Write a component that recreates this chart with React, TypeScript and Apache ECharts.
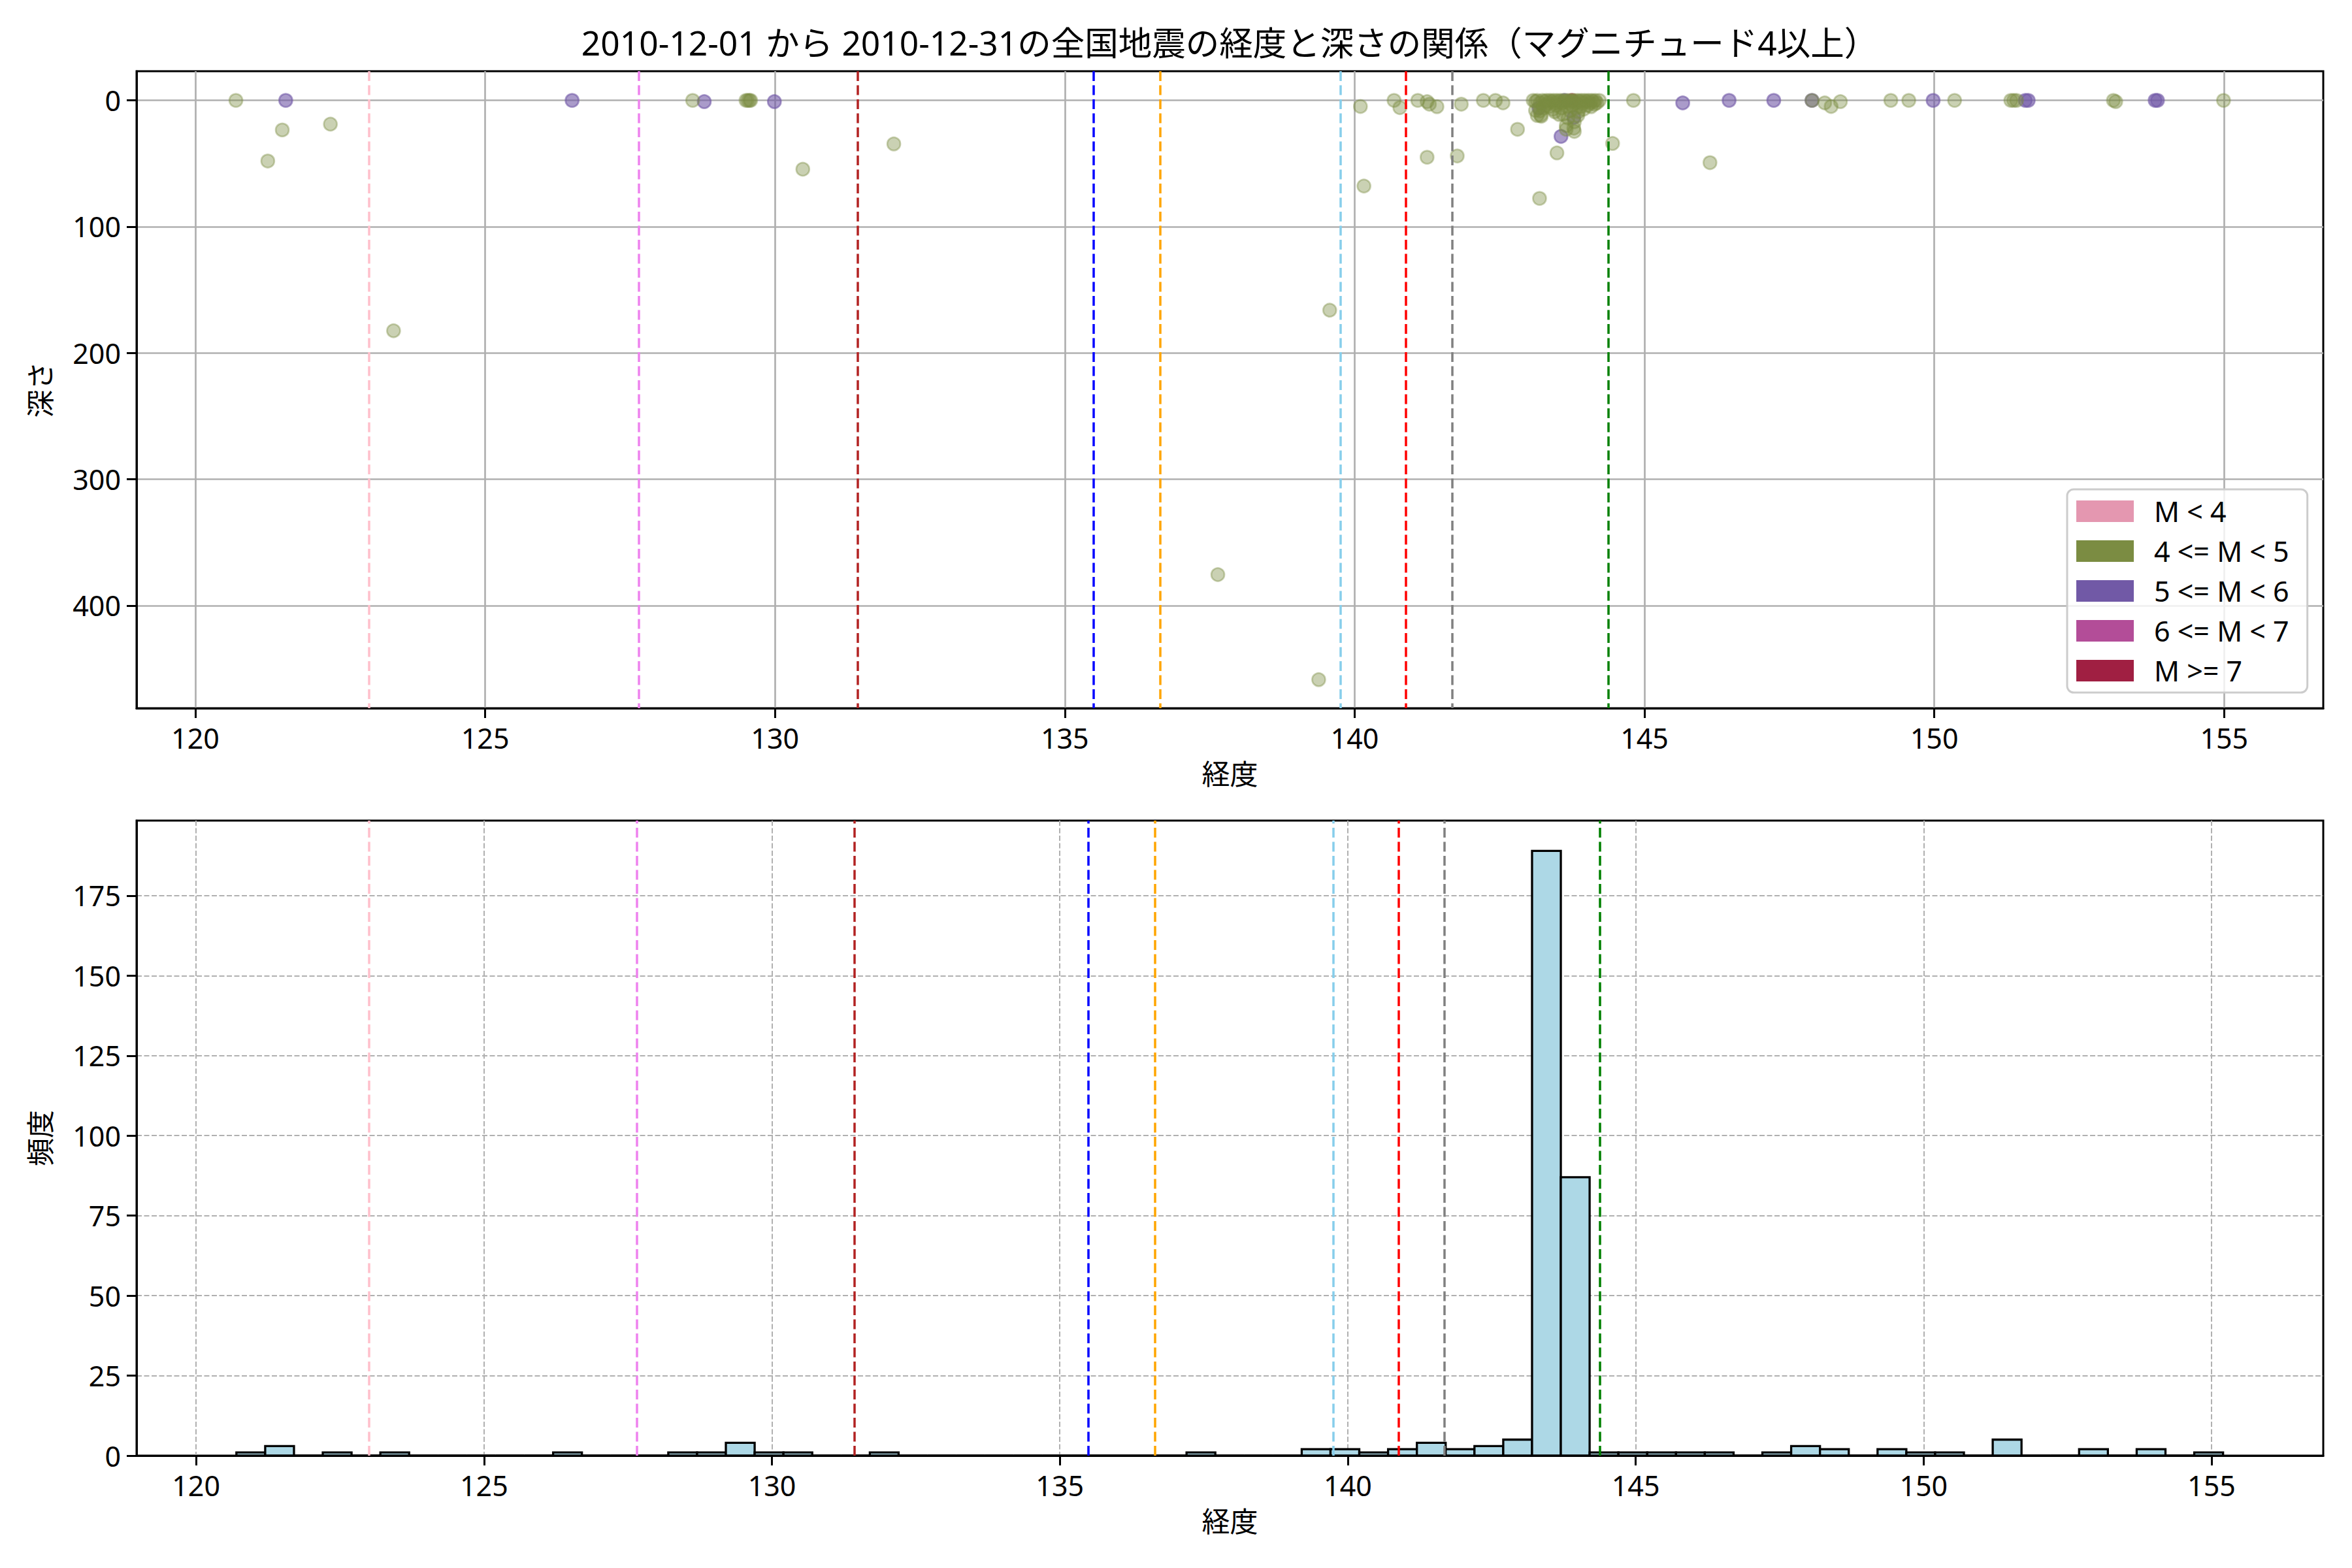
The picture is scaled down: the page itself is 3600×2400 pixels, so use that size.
import React, { useEffect, useRef } from "react";
import * as echarts from "echarts";

const TITLE = "2010-12-01 から 2010-12-31の全国地震の経度と深さの関係（マグニチュード4以上）";
const X_TICKS = [120, 125, 130, 135, 140, 145, 150, 155];
const DEPTH_TICKS = [0, 100, 200, 300, 400];
const FREQ_TICKS = [0, 25, 50, 75, 100, 125, 150, 175];

const LEGEND_NAMES = ["M < 4", "4 <= M < 5", "5 <= M < 6", "6 <= M < 7", "M >= 7"];
const LEGEND_COLORS = ["#E497B0", "#7B8C42", "#7159A6", "#B34D98", "#A01F42"];

// [longitude, depth]
const M_LT4: number[][] = [];
const M_4_5: number[][] = [
  [120.70, 0], [121.25, 48], [121.50, 23.4], [122.33, 18.8], [123.42, 182.4],
  [128.58, 0], [129.50, 0], [129.53, 0], [129.56, 0], [129.58, 0],
  [130.48, 54.5], [132.05, 34.5], [137.64, 375.5], [139.38, 458.7], [139.57, 166.1],
  [140.10, 4.8], [140.16, 67.8], [140.68, 0], [140.78, 5.7], [141.09, 0],
  [141.25, 1], [141.29, 3], [141.42, 5], [141.25, 45], [141.77, 44], [141.84, 3],
  [142.22, 0], [142.43, 0], [142.56, 2], [142.81, 22.9], [143.19, 77.6],
  [143.49, 41.6], [143.65, 22.9], [143.79, 24.6], [144.45, 34.1], [144.81, 0],
  [146.13, 49.3], [147.89, 0], [148.11, 2], [148.22, 4.8], [148.38, 1],
  [149.25, 0], [149.56, 0], [150.35, 0], [151.32, 0], [151.37, 0], [151.42, 0],
  [153.09, 0], [153.13, 1], [154.99, 0],
  [143.08, 0], [143.12, 1], [143.15, 0], [143.20, 2], [143.24, 0], [143.28, 1],
  [143.31, 0], [143.34, 2], [143.37, 0], [143.40, 1], [143.43, 0], [143.46, 2],
  [143.49, 0], [143.52, 1], [143.55, 0], [143.58, 2], [143.61, 0], [143.64, 1],
  [143.67, 0], [143.70, 2], [143.73, 0], [143.76, 1], [143.79, 0], [143.82, 2],
  [143.85, 0], [143.88, 1], [143.91, 0], [143.94, 2], [143.97, 0], [144.00, 1],
  [144.03, 0], [144.06, 2], [144.09, 0], [144.12, 1], [144.15, 0], [144.18, 2],
  [144.22, 0],
  [143.12, 8], [143.15, 12], [143.20, 8.3], [143.22, 12.6], [143.21, 11.7], [143.26, 6],
  [143.35, 5], [143.42, 7], [143.48, 4], [143.53, 11.2], [143.57, 6], [143.60, 11],
  [143.66, 5], [143.72, 8.3], [143.75, 4], [143.82, 6], [143.86, 9], [143.90, 5],
  [143.95, 7], [144.02, 4], [144.08, 5], [144.14, 3], [143.30, 4], [143.45, 9],
  [143.68, 14], [143.79, 17], [143.85, 12], [143.65, 20], [143.78, 22]
];
const M_5_6: number[][] = [
  [121.56, 0], [126.50, 0], [128.78, 1], [129.99, 1], [143.18, 6], [143.62, 0],
  [143.56, 28.5], [143.78, 13.5], [145.66, 2], [146.46, 0], [147.23, 0], [147.89, 0],
  [149.98, 0], [151.57, 0], [151.62, 0], [153.81, 0], [153.85, 0]
];
const M_6_7: number[][] = [];
const M_GE7: number[][] = [[143.75, 0]];

const BIN_START = 120.7;
const BIN_WIDTH = 0.5;
const HIST_COUNTS = [
  1, 3, 0, 1, 0, 1, 0, 0, 0, 0, 0, 1, 0, 0, 0, 1, 1, 4, 1, 1,
  0, 0, 1, 0, 0, 0, 0, 0, 0, 0, 0, 0, 0, 1, 0, 0, 0, 2, 2, 1,
  2, 4, 2, 3, 5, 189, 87, 1, 1, 1, 1, 1, 0, 1, 3, 2, 0, 2, 1, 1,
  0, 5, 0, 0, 2, 0, 2, 0, 1
];

const VLINE_LONS = [123.0, 127.65, 131.43, 135.49, 136.65, 139.75, 140.88, 141.68, 144.38];
const VLINE_COLORS = ["#FFC0CB", "#EE82EE", "#B22222", "#0000FF", "#FFA500", "#87CEEB", "#FF0000", "#808080", "#008000"];

const FONT = "'Noto Sans', 'Noto Sans CJK JP', sans-serif";
const FS = 43;

export default function App() {
  const ref = useRef<HTMLDivElement>(null);
  useEffect(() => {
    if (!ref.current) return;
    const chart = echarts.init(ref.current, undefined, { renderer: "svg" });

    const scatterStyle = (color: string, opacity: number) => ({
      color,
      opacity,
      borderColor: color,
      borderWidth: 2.7,
    });

    const vlineSeries = (xAxisIndex: number, yAxisIndex: number) => ({
      type: "line",
      xAxisIndex,
      yAxisIndex,
      data: [],
      silent: true,
      z: 10,
      markLine: {
        symbol: "none",
        silent: true,
        label: { show: false },
        animation: false,
        data: VLINE_LONS.map((v, i) => ({
          xAxis: v,
          lineStyle: { color: VLINE_COLORS[i], width: 3.5, type: [15, 6.5] },
        })),
      },
    });

    const axisCommonX = (min: number, max: number, grid: number, dashed: boolean) => ({
      type: "value",
      gridIndex: grid,
      min,
      max,
      name: "経度",
      nameLocation: "middle",
      nameGap: 79,
      nameTextStyle: { fontSize: FS, color: "#000", fontFamily: FONT },
      axisLine: { show: true, onZero: false, lineStyle: { color: "#000", width: 3 } },
      axisTick: { show: true, length: 15, customValues: X_TICKS, lineStyle: { color: "#000", width: 3 } },
      axisLabel: { customValues: X_TICKS, fontSize: FS, color: "#000", fontFamily: FONT, margin: 24 },
      splitLine: {
        show: true,
        lineStyle: dashed
          ? { color: "#b0b0b0", width: 2, type: [8, 3.5] }
          : { color: "#b0b0b0", width: 2.7 },
      },
    });

    const option = {
      animation: false,
      graphic: [
        {
          type: "text",
          x: 1882,
          y: 65,
          style: {
            text: TITLE,
            font: `51.5px ${FONT}`,
            textAlign: "center",
            textVerticalAlign: "middle",
            fill: "#000",
          },
        },
      ],
      grid: [
        { left: 209, right: 44, top: 109, height: 975, show: true, borderColor: "#000", borderWidth: 3, backgroundColor: "transparent" },
        { left: 209, right: 44, top: 1256, height: 972, show: true, borderColor: "#000", borderWidth: 3, backgroundColor: "transparent" },
      ],
      xAxis: [axisCommonX(118.986, 156.71, 0, false), axisCommonX(118.966, 156.94, 1, true)],
      yAxis: [
        {
          type: "value",
          gridIndex: 0,
          inverse: true,
          min: -23.1,
          max: 481.3,
          name: "深さ",
          nameLocation: "middle",
          nameGap: 126,
          nameRotate: 90,
          nameTextStyle: { fontSize: FS, color: "#000", fontFamily: FONT },
          axisLine: { show: true, lineStyle: { color: "#000", width: 3 } },
          axisTick: { show: true, length: 15, customValues: DEPTH_TICKS, lineStyle: { color: "#000", width: 3 } },
          axisLabel: { customValues: DEPTH_TICKS, fontSize: FS, color: "#000", fontFamily: FONT, margin: 24 },
          splitLine: { show: true, lineStyle: { color: "#b0b0b0", width: 2.7 } },
        },
        {
          type: "value",
          gridIndex: 1,
          min: 0,
          max: 198.45,
          name: "頻度",
          nameLocation: "middle",
          nameGap: 126,
          nameRotate: 90,
          nameTextStyle: { fontSize: FS, color: "#000", fontFamily: FONT },
          axisLine: { show: true, lineStyle: { color: "#000", width: 3 } },
          axisTick: { show: true, length: 15, customValues: FREQ_TICKS, lineStyle: { color: "#000", width: 3 } },
          axisLabel: { customValues: FREQ_TICKS, fontSize: FS, color: "#000", fontFamily: FONT, margin: 24 },
          splitLine: { show: true, lineStyle: { color: "#b0b0b0", width: 2, type: [8, 3.5] } },
        },
      ],
      legend: {
        orient: "vertical",
        left: 3164,
        top: 749,
        itemWidth: 88,
        itemHeight: 33,
        itemGap: 18,
        icon: "rect",
        padding: [12, 28, 12, 14],
        backgroundColor: "rgba(255,255,255,0.8)",
        borderColor: "#cccccc",
        borderWidth: 3,
        borderRadius: 10,
        textStyle: { fontSize: FS, color: "#000", fontFamily: FONT, padding: [0, 0, 0, 26] },
        data: LEGEND_NAMES.map((n, i) => ({ name: n, itemStyle: { color: LEGEND_COLORS[i], opacity: 1, borderWidth: 0 } })),
      },
      series: [
        { name: LEGEND_NAMES[4], type: "scatter", xAxisIndex: 0, yAxisIndex: 0, symbolSize: 20, data: M_GE7, itemStyle: scatterStyle(LEGEND_COLORS[4], 0.6) },
        { name: LEGEND_NAMES[3], type: "scatter", xAxisIndex: 0, yAxisIndex: 0, symbolSize: 20, data: M_6_7, itemStyle: scatterStyle(LEGEND_COLORS[3], 0.6) },
        { name: LEGEND_NAMES[2], type: "scatter", xAxisIndex: 0, yAxisIndex: 0, symbolSize: 20, data: M_5_6, itemStyle: scatterStyle(LEGEND_COLORS[2], 0.6) },
        { name: LEGEND_NAMES[1], type: "scatter", xAxisIndex: 0, yAxisIndex: 0, symbolSize: 20, data: M_4_5, itemStyle: scatterStyle(LEGEND_COLORS[1], 0.4) },
        { name: LEGEND_NAMES[0], type: "scatter", xAxisIndex: 0, yAxisIndex: 0, symbolSize: 20, data: M_LT4, itemStyle: scatterStyle(LEGEND_COLORS[0], 0.4) },
        vlineSeries(0, 0),
        {
          type: "custom",
          xAxisIndex: 1,
          yAxisIndex: 1,
          encode: { x: [0, 2], y: 1 },
          data: HIST_COUNTS.map((c, i) => [BIN_START + i * BIN_WIDTH, c, BIN_START + (i + 1) * BIN_WIDTH]),
          renderItem: (params: any, api: any) => {
            const x0 = api.value(0);
            const c = api.value(1);
            const x1 = api.value(2);
            const p0 = api.coord([x0, 0]);
            const p1 = api.coord([x1, c]);
            if (c === 0) {
              return {
                type: "line",
                shape: { x1: p0[0], y1: p0[1], x2: p1[0], y2: p0[1] },
                style: { stroke: "#000", lineWidth: 3.3 },
              };
            }
            return {
              type: "rect",
              shape: { x: p0[0], y: p1[1], width: p1[0] - p0[0], height: p0[1] - p1[1] },
              style: { fill: "#ADD8E6", stroke: "#000", lineWidth: 3.3 },
            };
          },
        },
        vlineSeries(1, 1),
      ],
    };
    chart.setOption(option as any);
    return () => chart.dispose();
  }, []);
  return <div ref={ref} style={{ position: "absolute", left: 0, top: 0, width: 3600, height: 2400, background: "#fff" }} />;
}
